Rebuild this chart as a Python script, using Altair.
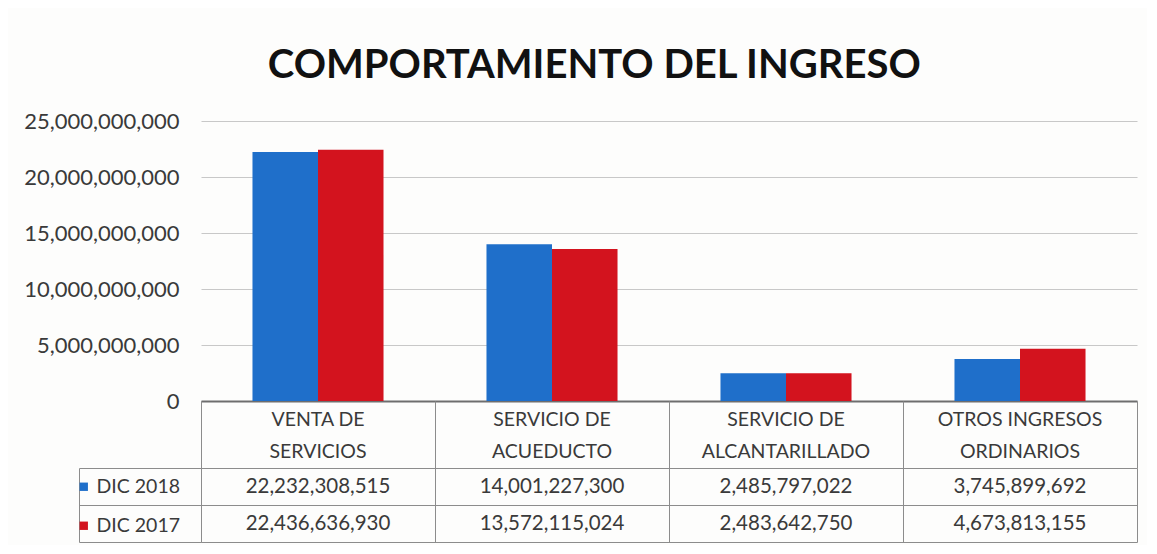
import altair as alt
import pandas as pd

categories = ["VENTA DE SERVICIOS", "SERVICIO DE ACUEDUCTO",
              "SERVICIO DE ALCANTARILLADO", "OTROS INGRESOS ORDINARIOS"]
header_line1 = ["VENTA DE", "SERVICIO DE", "SERVICIO DE", "OTROS INGRESOS"]
header_line2 = ["SERVICIOS", "ACUEDUCTO", "ALCANTARILLADO", "ORDINARIOS"]
series = ["DIC 2018", "DIC 2017"]
values_2018 = [22232308515, 14001227300, 2485797022, 3745899692]
values_2017 = [22436636930, 13572115024, 2483642750, 4673813155]
y_ticks = [0, 5000000000, 10000000000, 15000000000, 20000000000, 25000000000]

BLUE = "#1f6fca"
RED = "#d3131e"
GRID = "#c8c8c8"
LINE = "#8c8c8c"
TEXT = "#3a3a3a"
FONT = "Lato"

rows = []
for c, v18, v17 in zip(categories, values_2018, values_2017):
    rows.append({"category": c, "series": "DIC 2018", "value": v18})
    rows.append({"category": c, "series": "DIC 2017", "value": v17})
df = pd.DataFrame(rows)

hdr = pd.DataFrame({"category": categories, "l1": header_line1, "l2": header_line2})

W = 936

bars = alt.Chart(df).mark_bar().encode(
    x=alt.X("category:N", sort=categories,
            scale=alt.Scale(paddingInner=0.44, paddingOuter=0.22),
            axis=alt.Axis(labels=False, ticks=False, title=None, domain=True,
                          domainColor="#6e6e6e", domainWidth=2, grid=False)),
    xOffset=alt.XOffset("series:N", sort=series),
    y=alt.Y("value:Q", scale=alt.Scale(domain=[0, 25000000000], nice=False),
            axis=alt.Axis(values=y_ticks, format=",d", title=None, domain=False,
                          ticks=False, labelFontSize=22, labelColor=TEXT,
                          labelFont=FONT, labelPadding=22, gridColor=GRID,
                          gridWidth=1.2)),
    color=alt.Color("series:N", sort=series,
                    scale=alt.Scale(domain=series, range=[BLUE, RED]),
                    legend=None),
).properties(width=W, height=280)

xt = alt.X("category:N", sort=categories,
           scale=alt.Scale(paddingInner=0, paddingOuter=0),
           axis=alt.Axis(labels=False, ticks=False, domain=False, title=None,
                         grid=True, tickBand="extent", gridColor=LINE))

hbase = alt.Chart(hdr).encode(x=xt)
h1 = hbase.mark_text(fontSize=19.5, font=FONT, color=TEXT, dy=2).encode(
    y=alt.Y("r:N", scale=alt.Scale(domain=["l1", "l2"]),
            axis=alt.Axis(labels=False, ticks=False, title=None, grid=False,
                          domain=True, domainColor=LINE)),
    text="l1:N").transform_calculate(r="'l1'")
h2 = hbase.mark_text(fontSize=19.5, font=FONT, color=TEXT, dy=1).encode(
    y=alt.Y("r:N", scale=alt.Scale(domain=["l1", "l2"])),
    text="l2:N").transform_calculate(r="'l2'")
header = alt.layer(h1, h2).properties(width=W, height=67)

vbase = alt.Chart(df).encode(x=xt)
vtext = vbase.mark_text(fontSize=20.5, font=FONT, color=TEXT).encode(
    y=alt.Y("series:N", sort=series, scale=alt.Scale(domain=series),
            axis=alt.Axis(labels=False, title=None, domain=True,
                          domainColor=LINE, ticks=True, tickSize=122,
                          tickColor=LINE, tickBand="extent", grid=True,
                          gridColor=LINE)),
    text=alt.Text("value:Q", format=",d"),
)
vlegend = vbase.mark_square(opacity=0, size=60).encode(
    y=alt.Y("series:N", sort=series, scale=alt.Scale(domain=series),
            axis=alt.Axis(labels=False, title=None, ticks=False, grid=False,
                          domain=True, domainColor=LINE, orient="left",
                          offset=122)),
    color=alt.Color("series:N", sort=series,
                    scale=alt.Scale(domain=series, range=[BLUE, RED]),
                    legend=alt.Legend(title=None, orient="none", legendX=-127,
                                      legendY=9, symbolType="square",
                                      symbolSize=70, symbolOpacity=1,
                                      labelFontSize=19.5, labelFont=FONT,
                                      labelColor=TEXT, rowPadding=18,
                                      symbolOffset=0, labelOffset=3)),
)
values = alt.layer(vtext, vlegend).resolve_axis(y="independent").properties(
    width=W, height=74)

chart = alt.vconcat(bars, header, values, spacing=0, bounds="flush").resolve_scale(
    color="independent"
).resolve_legend(color="independent").properties(
    title=alt.Title("COMPORTAMIENTO DEL INGRESO", fontSize=40, font=FONT,
                    fontWeight="bold", color="#111111", anchor="middle",
                    offset=24, dx=14),
    padding={"left": 15, "top": 38, "right": 10, "bottom": 2},
    background="#fdfdfc",
).configure_view(stroke=None).configure_concat(spacing=0)

chart.save("out.html", embed_options={"renderer": "svg", "actions": False})
